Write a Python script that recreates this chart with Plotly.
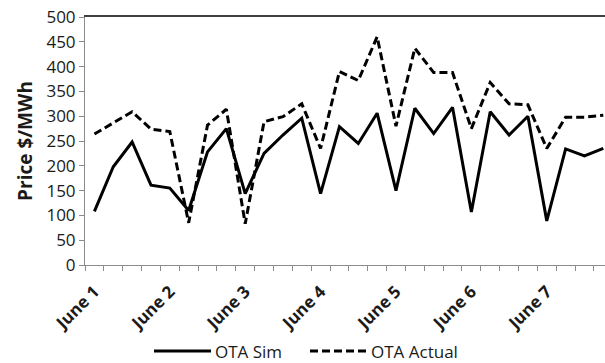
import plotly.graph_objects as go

days = ["June 1", "June 2", "June 3", "June 4", "June 5", "June 6", "June 7"]
points_per_day = 4
ota_sim = [108, 198, 248, 161, 155, 110, 228, 275, 144, 225, 262, 296, 144, 279,
           245, 306, 150, 316, 265, 318, 107, 309, 262, 300, 89, 234, 220, 235]
ota_actual = [264, 286, 309, 274, 269, 85, 282, 314, 83, 289, 299, 325, 235, 390,
              372, 460, 280, 437, 388, 388, 275, 368, 325, 323, 235, 298, 298, 302]
y_ticks = list(range(0, 501, 50))
series_names = ["OTA Sim", "OTA Actual"]

n = len(ota_sim)
xs = list(range(n))
day_pos = [i * points_per_day for i in range(len(days))]
boundaries = [i - 0.5 for i in range(n + 1)]
x_range = [-0.5, n - 0.91]

FONT = "Open Sans"
W, H = 605, 363
ML, MR, MT, MB = 85, 0, 17, 98
PW, PH = W - ML - MR, H - MT - MB

def px_x(p):
    return (p - ML) / PW

def px_y(p):
    return (H - MB - p) / PH

fig = go.Figure()
fig.add_trace(go.Scatter(x=xs, y=ota_sim, mode="lines", name=series_names[0],
                         showlegend=False,
                         line=dict(color="black", width=3)))
fig.add_trace(go.Scatter(x=xs, y=ota_actual, mode="lines", name=series_names[1],
                         showlegend=False,
                         line=dict(color="black", width=3, dash="8px,4px")))

# manual legend (long line samples as in the original)
leg_y = 351
legend_items = [(154, 211, 213, None), (310, 366, 369, "8px,4px")]
for (x0, x1, tx, dash), name in zip(legend_items, series_names):
    fig.add_shape(type="line", xref="paper", yref="paper",
                  x0=px_x(x0), x1=px_x(x1), y0=px_y(leg_y), y1=px_y(leg_y),
                  line=dict(color="black", width=3, dash=dash))
    fig.add_annotation(xref="paper", yref="paper", x=px_x(tx), y=px_y(leg_y),
                       xanchor="left", yanchor="middle", text=name,
                       showarrow=False,
                       font=dict(size=17, family=FONT, color="#1a1a1a"))

fig.update_layout(
    width=W, height=H,
    margin=dict(l=ML, r=MR, t=MT, b=MB),
    paper_bgcolor="white", plot_bgcolor="white",
    font=dict(family=FONT, color="#1a1a1a"),
    showlegend=False,
    xaxis=dict(range=x_range, showgrid=False, zeroline=False,
               showline=True, linecolor="#8c8c8c", linewidth=1,
               tickmode="array", tickvals=boundaries, ticks="outside",
               ticklen=5, tickcolor="#8c8c8c", showticklabels=False),
    xaxis2=dict(overlaying="x", matches="x", side="bottom", showgrid=False,
                zeroline=False, showline=False, tickmode="array",
                tickvals=day_pos, ticktext=["<b>%s</b>" % d for d in days],
                tickangle=-45,
                ticks="outside", ticklen=9, tickcolor="rgba(0,0,0,0)",
                tickfont=dict(size=17, family=FONT, color="#1a1a1a")),
    xaxis3=dict(overlaying="x", matches="x", side="top", showgrid=False,
                zeroline=False, showline=True, linecolor="#404040",
                linewidth=2, showticklabels=False, ticks=""),
    yaxis=dict(range=[0, 500], tickvals=y_ticks, showgrid=False,
               zeroline=False, showline=True, linecolor="#8c8c8c",
               linewidth=1, ticks="outside", ticklen=5, tickcolor="#8c8c8c",
               tickfont=dict(size=17, family=FONT, color="#1a1a1a"),
               title=dict(text="<b>Price $/MWh</b>", standoff=8,
                          font=dict(size=19, family=FONT, color="#1a1a1a"))),
)
# invisible traces to activate the extra axes
fig.add_trace(go.Scatter(x=[xs[0]], y=[ota_sim[0]], xaxis="x2", mode="lines",
                         showlegend=False, hoverinfo="skip",
                         line=dict(color="rgba(0,0,0,0)")))
fig.add_trace(go.Scatter(x=[xs[0]], y=[ota_sim[0]], xaxis="x3", mode="lines",
                         showlegend=False, hoverinfo="skip",
                         line=dict(color="rgba(0,0,0,0)")))

fig.write_html("out.html")
